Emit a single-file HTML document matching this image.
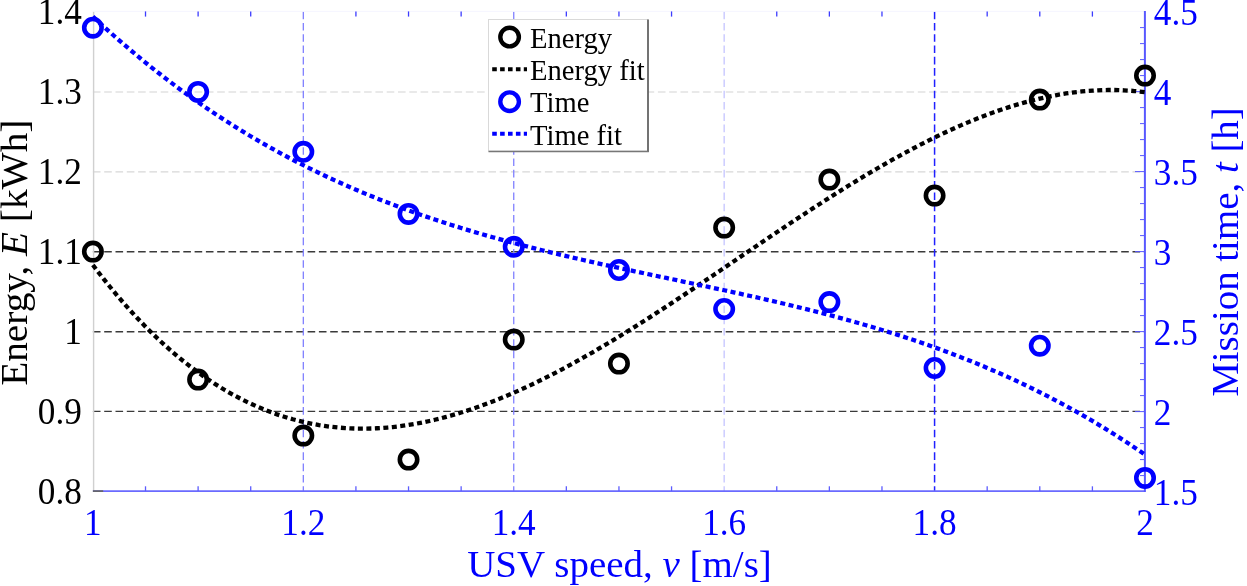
<!DOCTYPE html>
<html><head><meta charset="utf-8"><title>Energy and mission time vs USV speed</title>
<style>html,body{margin:0;padding:0;background:#fff;overflow:hidden}svg text{font-family:"Liberation Serif","Times New Roman",serif}</style></head>
<body>
<svg width="1247" height="586" viewBox="0 0 1247 586" style="display:block">
<rect x="0" y="0" width="1247" height="586" fill="#fff"/>
<line x1="92.9" y1="411.35" x2="1145.0" y2="411.35" stroke="#3a3a3a" stroke-width="1.3" stroke-dasharray="7.6 3.7"/>
<line x1="92.9" y1="331.75" x2="1145.0" y2="331.75" stroke="#3a3a3a" stroke-width="1.3" stroke-dasharray="7.6 3.7"/>
<line x1="92.9" y1="251.75" x2="1145.0" y2="251.75" stroke="#3a3a3a" stroke-width="1.3" stroke-dasharray="7.6 3.7"/>
<line x1="92.9" y1="171.80" x2="1145.0" y2="171.80" stroke="#d8d8d8" stroke-width="1.3" stroke-dasharray="7.6 3.7"/>
<line x1="92.9" y1="92.00" x2="1145.0" y2="92.00" stroke="#e2e2e2" stroke-width="1.3" stroke-dasharray="7.6 3.7"/>
<line x1="303.32" y1="11.6" x2="303.32" y2="491.6" stroke="#8080ff" stroke-width="1.3" stroke-dasharray="7.6 3.7"/>
<line x1="513.74" y1="11.6" x2="513.74" y2="491.6" stroke="#8080ff" stroke-width="1.3" stroke-dasharray="7.6 3.7"/>
<line x1="724.16" y1="11.6" x2="724.16" y2="491.6" stroke="#c4c4ff" stroke-width="1.3" stroke-dasharray="7.6 3.7"/>
<line x1="934.58" y1="11.6" x2="934.58" y2="491.6" stroke="#2020ff" stroke-width="1.5" stroke-dasharray="7.6 3.7"/>
<line x1="93.6" y1="11.4" x2="93.6" y2="491.5" stroke="#d0d0d0" stroke-width="1.4"/>
<line x1="92.9" y1="11.4" x2="1145.0" y2="11.4" stroke="#f5f5ff" stroke-width="1"/>
<line x1="92.9" y1="491.1" x2="1145.0" y2="491.1" stroke="#6a6aff" stroke-width="1.7"/>
<line x1="1144.9" y1="11" x2="1144.9" y2="492" stroke="#5858ff" stroke-width="2"/>
<line x1="92.9" y1="491.1" x2="103.2" y2="491.1" stroke="#666" stroke-width="1.7"/>
<line x1="145.51" y1="11.4" x2="145.51" y2="16.6" stroke="#3c3cff" stroke-width="1.3"/>
<line x1="145.51" y1="491.1" x2="145.51" y2="486.3" stroke="#5c5cff" stroke-width="1.3"/>
<line x1="198.11" y1="11.4" x2="198.11" y2="16.6" stroke="#3c3cff" stroke-width="1.3"/>
<line x1="198.11" y1="491.1" x2="198.11" y2="486.3" stroke="#5c5cff" stroke-width="1.3"/>
<line x1="250.71" y1="11.4" x2="250.71" y2="16.6" stroke="#3c3cff" stroke-width="1.3"/>
<line x1="250.71" y1="491.1" x2="250.71" y2="486.3" stroke="#5c5cff" stroke-width="1.3"/>
<line x1="355.92" y1="11.4" x2="355.92" y2="16.6" stroke="#3c3cff" stroke-width="1.3"/>
<line x1="355.92" y1="491.1" x2="355.92" y2="486.3" stroke="#5c5cff" stroke-width="1.3"/>
<line x1="408.53" y1="11.4" x2="408.53" y2="16.6" stroke="#3c3cff" stroke-width="1.3"/>
<line x1="408.53" y1="491.1" x2="408.53" y2="486.3" stroke="#5c5cff" stroke-width="1.3"/>
<line x1="461.14" y1="11.4" x2="461.14" y2="16.6" stroke="#3c3cff" stroke-width="1.3"/>
<line x1="461.14" y1="491.1" x2="461.14" y2="486.3" stroke="#5c5cff" stroke-width="1.3"/>
<line x1="566.34" y1="11.4" x2="566.34" y2="16.6" stroke="#3c3cff" stroke-width="1.3"/>
<line x1="566.34" y1="491.1" x2="566.34" y2="486.3" stroke="#5c5cff" stroke-width="1.3"/>
<line x1="618.95" y1="11.4" x2="618.95" y2="16.6" stroke="#3c3cff" stroke-width="1.3"/>
<line x1="618.95" y1="491.1" x2="618.95" y2="486.3" stroke="#5c5cff" stroke-width="1.3"/>
<line x1="671.55" y1="11.4" x2="671.55" y2="16.6" stroke="#3c3cff" stroke-width="1.3"/>
<line x1="671.55" y1="491.1" x2="671.55" y2="486.3" stroke="#5c5cff" stroke-width="1.3"/>
<line x1="776.76" y1="11.4" x2="776.76" y2="16.6" stroke="#3c3cff" stroke-width="1.3"/>
<line x1="776.76" y1="491.1" x2="776.76" y2="486.3" stroke="#5c5cff" stroke-width="1.3"/>
<line x1="829.37" y1="11.4" x2="829.37" y2="16.6" stroke="#3c3cff" stroke-width="1.3"/>
<line x1="829.37" y1="491.1" x2="829.37" y2="486.3" stroke="#5c5cff" stroke-width="1.3"/>
<line x1="881.97" y1="11.4" x2="881.97" y2="16.6" stroke="#3c3cff" stroke-width="1.3"/>
<line x1="881.97" y1="491.1" x2="881.97" y2="486.3" stroke="#5c5cff" stroke-width="1.3"/>
<line x1="987.18" y1="11.4" x2="987.18" y2="16.6" stroke="#3c3cff" stroke-width="1.3"/>
<line x1="987.18" y1="491.1" x2="987.18" y2="486.3" stroke="#5c5cff" stroke-width="1.3"/>
<line x1="1039.79" y1="11.4" x2="1039.79" y2="16.6" stroke="#3c3cff" stroke-width="1.3"/>
<line x1="1039.79" y1="491.1" x2="1039.79" y2="486.3" stroke="#5c5cff" stroke-width="1.3"/>
<line x1="1092.40" y1="11.4" x2="1092.40" y2="16.6" stroke="#3c3cff" stroke-width="1.3"/>
<line x1="1092.40" y1="491.1" x2="1092.40" y2="486.3" stroke="#5c5cff" stroke-width="1.3"/>
<line x1="1140.0" y1="475.60" x2="1145.0" y2="475.60" stroke="#5a5aff" stroke-width="1"/>
<line x1="1140.0" y1="459.60" x2="1145.0" y2="459.60" stroke="#5a5aff" stroke-width="1"/>
<line x1="1140.0" y1="443.60" x2="1145.0" y2="443.60" stroke="#5a5aff" stroke-width="1"/>
<line x1="1140.0" y1="427.60" x2="1145.0" y2="427.60" stroke="#5a5aff" stroke-width="1"/>
<line x1="1135.0" y1="411.60" x2="1145.0" y2="411.60" stroke="#5a5aff" stroke-width="1"/>
<line x1="1140.0" y1="395.60" x2="1145.0" y2="395.60" stroke="#5a5aff" stroke-width="1"/>
<line x1="1140.0" y1="379.60" x2="1145.0" y2="379.60" stroke="#5a5aff" stroke-width="1"/>
<line x1="1140.0" y1="363.60" x2="1145.0" y2="363.60" stroke="#5a5aff" stroke-width="1"/>
<line x1="1140.0" y1="347.60" x2="1145.0" y2="347.60" stroke="#5a5aff" stroke-width="1"/>
<line x1="1135.0" y1="331.60" x2="1145.0" y2="331.60" stroke="#5a5aff" stroke-width="1"/>
<line x1="1140.0" y1="315.60" x2="1145.0" y2="315.60" stroke="#5a5aff" stroke-width="1"/>
<line x1="1140.0" y1="299.60" x2="1145.0" y2="299.60" stroke="#5a5aff" stroke-width="1"/>
<line x1="1140.0" y1="283.60" x2="1145.0" y2="283.60" stroke="#5a5aff" stroke-width="1"/>
<line x1="1140.0" y1="267.60" x2="1145.0" y2="267.60" stroke="#5a5aff" stroke-width="1"/>
<line x1="1135.0" y1="251.60" x2="1145.0" y2="251.60" stroke="#5a5aff" stroke-width="1"/>
<line x1="1140.0" y1="235.60" x2="1145.0" y2="235.60" stroke="#5a5aff" stroke-width="1"/>
<line x1="1140.0" y1="219.60" x2="1145.0" y2="219.60" stroke="#5a5aff" stroke-width="1"/>
<line x1="1140.0" y1="203.60" x2="1145.0" y2="203.60" stroke="#5a5aff" stroke-width="1"/>
<line x1="1140.0" y1="187.60" x2="1145.0" y2="187.60" stroke="#5a5aff" stroke-width="1"/>
<line x1="1135.0" y1="171.60" x2="1145.0" y2="171.60" stroke="#5a5aff" stroke-width="1"/>
<line x1="1140.0" y1="155.60" x2="1145.0" y2="155.60" stroke="#5a5aff" stroke-width="1"/>
<line x1="1140.0" y1="139.60" x2="1145.0" y2="139.60" stroke="#5a5aff" stroke-width="1"/>
<line x1="1140.0" y1="123.60" x2="1145.0" y2="123.60" stroke="#5a5aff" stroke-width="1"/>
<line x1="1140.0" y1="107.60" x2="1145.0" y2="107.60" stroke="#5a5aff" stroke-width="1"/>
<line x1="1135.0" y1="91.60" x2="1145.0" y2="91.60" stroke="#5a5aff" stroke-width="1"/>
<line x1="1140.0" y1="75.60" x2="1145.0" y2="75.60" stroke="#5a5aff" stroke-width="1"/>
<line x1="1140.0" y1="59.60" x2="1145.0" y2="59.60" stroke="#5a5aff" stroke-width="1"/>
<line x1="1140.0" y1="43.60" x2="1145.0" y2="43.60" stroke="#5a5aff" stroke-width="1"/>
<line x1="1140.0" y1="27.60" x2="1145.0" y2="27.60" stroke="#5a5aff" stroke-width="1"/>
<path d="M92.90,265.03 L98.16,271.94 L103.42,278.69 L108.68,285.26 L113.94,291.66 L119.20,297.90 L124.46,303.98 L129.72,309.88 L134.98,315.63 L140.24,321.21 L145.51,326.64 L150.77,331.90 L156.03,337.01 L161.29,341.96 L166.55,346.76 L171.81,351.40 L177.07,355.90 L182.33,360.24 L187.59,364.44 L192.85,368.48 L198.11,372.38 L203.37,376.14 L208.63,379.75 L213.89,383.22 L219.15,386.56 L224.41,389.75 L229.67,392.80 L234.93,395.72 L240.19,398.51 L245.45,401.16 L250.71,403.68 L255.98,406.07 L261.24,408.33 L266.50,410.46 L271.76,412.46 L277.02,414.35 L282.28,416.10 L287.54,417.74 L292.80,419.26 L298.06,420.65 L303.32,421.93 L308.58,423.09 L313.84,424.14 L319.10,425.08 L324.36,425.90 L329.62,426.61 L334.88,427.21 L340.14,427.70 L345.40,428.09 L350.66,428.38 L355.92,428.56 L361.19,428.63 L366.45,428.61 L371.71,428.49 L376.97,428.26 L382.23,427.95 L387.49,427.53 L392.75,427.03 L398.01,426.43 L403.27,425.74 L408.53,424.96 L413.79,424.09 L419.05,423.14 L424.31,422.10 L429.57,420.98 L434.83,419.77 L440.09,418.49 L445.35,417.12 L450.61,415.68 L455.87,414.16 L461.14,412.56 L466.40,410.89 L471.66,409.15 L476.92,407.33 L482.18,405.45 L487.44,403.50 L492.70,401.48 L497.96,399.40 L503.22,397.25 L508.48,395.04 L513.74,392.77 L519.00,390.43 L524.26,388.04 L529.52,385.60 L534.78,383.09 L540.04,380.54 L545.30,377.93 L550.56,375.26 L555.82,372.55 L561.08,369.79 L566.34,366.99 L571.61,364.13 L576.87,361.24 L582.13,358.30 L587.39,355.32 L592.65,352.29 L597.91,349.23 L603.17,346.14 L608.43,343.00 L613.69,339.84 L618.95,336.63 L624.21,333.40 L629.47,330.14 L634.73,326.85 L639.99,323.53 L645.25,320.19 L650.51,316.82 L655.77,313.42 L661.03,310.01 L666.29,306.58 L671.55,303.12 L676.82,299.65 L682.08,296.17 L687.34,292.66 L692.60,289.15 L697.86,285.62 L703.12,282.09 L708.38,278.54 L713.64,274.99 L718.90,271.43 L724.16,267.86 L729.42,264.29 L734.68,260.72 L739.94,257.15 L745.20,253.58 L750.46,250.02 L755.72,246.45 L760.98,242.89 L766.24,239.34 L771.50,235.80 L776.76,232.26 L782.03,228.74 L787.29,225.23 L792.55,221.73 L797.81,218.24 L803.07,214.78 L808.33,211.33 L813.59,207.90 L818.85,204.49 L824.11,201.10 L829.37,197.74 L834.63,194.40 L839.89,191.08 L845.15,187.80 L850.41,184.54 L855.67,181.32 L860.93,178.12 L866.19,174.96 L871.45,171.84 L876.71,168.75 L881.97,165.69 L887.24,162.68 L892.50,159.71 L897.76,156.78 L903.02,153.89 L908.28,151.05 L913.54,148.25 L918.80,145.50 L924.06,142.80 L929.32,140.15 L934.58,137.55 L939.84,135.00 L945.10,132.51 L950.36,130.08 L955.62,127.70 L960.88,125.38 L966.14,123.12 L971.40,120.92 L976.66,118.79 L981.92,116.72 L987.18,114.71 L992.45,112.77 L997.71,110.90 L1002.97,109.11 L1008.23,107.38 L1013.49,105.72 L1018.75,104.14 L1024.01,102.64 L1029.27,101.21 L1034.53,99.86 L1039.79,98.59 L1045.05,97.41 L1050.31,96.30 L1055.57,95.28 L1060.83,94.34 L1066.09,93.49 L1071.35,92.73 L1076.61,92.06 L1081.87,91.48 L1087.13,91.00 L1092.40,90.61 L1097.66,90.31 L1102.92,90.11 L1108.18,90.01 L1113.44,90.00 L1118.70,90.10 L1123.96,90.30 L1129.22,90.61 L1134.48,91.02 L1139.74,91.53 L1145.00,92.16" fill="none" stroke="#000" stroke-width="4.3" stroke-dasharray="5.0 3.5"/>
<path d="M92.90,16.55 L98.16,21.46 L103.42,26.29 L108.68,31.06 L113.94,35.75 L119.20,40.39 L124.46,44.95 L129.72,49.45 L134.98,53.88 L140.24,58.25 L145.51,62.56 L150.77,66.80 L156.03,70.98 L161.29,75.10 L166.55,79.16 L171.81,83.16 L177.07,87.09 L182.33,90.97 L187.59,94.79 L192.85,98.55 L198.11,102.25 L203.37,105.90 L208.63,109.49 L213.89,113.02 L219.15,116.50 L224.41,119.92 L229.67,123.29 L234.93,126.61 L240.19,129.88 L245.45,133.09 L250.71,136.25 L255.98,139.36 L261.24,142.42 L266.50,145.43 L271.76,148.40 L277.02,151.31 L282.28,154.18 L287.54,157.00 L292.80,159.78 L298.06,162.51 L303.32,165.19 L308.58,167.83 L313.84,170.43 L319.10,172.98 L324.36,175.49 L329.62,177.96 L334.88,180.39 L340.14,182.78 L345.40,185.12 L350.66,187.43 L355.92,189.70 L361.19,191.93 L366.45,194.13 L371.71,196.29 L376.97,198.41 L382.23,200.50 L387.49,202.55 L392.75,204.56 L398.01,206.55 L403.27,208.50 L408.53,210.42 L413.79,212.30 L419.05,214.16 L424.31,215.98 L429.57,217.78 L434.83,219.55 L440.09,221.28 L445.35,222.99 L450.61,224.68 L455.87,226.33 L461.14,227.96 L466.40,229.57 L471.66,231.15 L476.92,232.70 L482.18,234.24 L487.44,235.75 L492.70,237.23 L497.96,238.70 L503.22,240.14 L508.48,241.57 L513.74,242.97 L519.00,244.36 L524.26,245.73 L529.52,247.07 L534.78,248.41 L540.04,249.72 L545.30,251.02 L550.56,252.31 L555.82,253.58 L561.08,254.83 L566.34,256.07 L571.61,257.30 L576.87,258.52 L582.13,259.73 L587.39,260.92 L592.65,262.11 L597.91,263.28 L603.17,264.45 L608.43,265.61 L613.69,266.76 L618.95,267.90 L624.21,269.04 L629.47,270.17 L634.73,271.29 L639.99,272.41 L645.25,273.53 L650.51,274.65 L655.77,275.76 L661.03,276.87 L666.29,277.97 L671.55,279.08 L676.82,280.19 L682.08,281.29 L687.34,282.40 L692.60,283.51 L697.86,284.62 L703.12,285.74 L708.38,286.86 L713.64,287.98 L718.90,289.11 L724.16,290.24 L729.42,291.38 L734.68,292.53 L739.94,293.69 L745.20,294.85 L750.46,296.02 L755.72,297.20 L760.98,298.39 L766.24,299.59 L771.50,300.80 L776.76,302.02 L782.03,303.26 L787.29,304.51 L792.55,305.77 L797.81,307.05 L803.07,308.34 L808.33,309.65 L813.59,310.97 L818.85,312.31 L824.11,313.67 L829.37,315.05 L834.63,316.44 L839.89,317.86 L845.15,319.29 L850.41,320.75 L855.67,322.23 L860.93,323.72 L866.19,325.24 L871.45,326.79 L876.71,328.36 L881.97,329.95 L887.24,331.57 L892.50,333.21 L897.76,334.88 L903.02,336.58 L908.28,338.30 L913.54,340.05 L918.80,341.83 L924.06,343.64 L929.32,345.48 L934.58,347.36 L939.84,349.26 L945.10,351.19 L950.36,353.16 L955.62,355.16 L960.88,357.20 L966.14,359.27 L971.40,361.37 L976.66,363.51 L981.92,365.69 L987.18,367.90 L992.45,370.15 L997.71,372.44 L1002.97,374.77 L1008.23,377.14 L1013.49,379.55 L1018.75,381.99 L1024.01,384.48 L1029.27,387.02 L1034.53,389.59 L1039.79,392.21 L1045.05,394.87 L1050.31,397.58 L1055.57,400.33 L1060.83,403.13 L1066.09,405.98 L1071.35,408.87 L1076.61,411.81 L1081.87,414.80 L1087.13,417.83 L1092.40,420.92 L1097.66,424.06 L1102.92,427.24 L1108.18,430.48 L1113.44,433.78 L1118.70,437.12 L1123.96,440.52 L1129.22,443.97 L1134.48,447.48 L1139.74,451.04 L1145.00,454.66" fill="none" stroke="#0000ff" stroke-width="4.3" stroke-dasharray="5.0 3.5"/>
<circle cx="92.90" cy="251.60" r="8.7" fill="none" stroke="#000" stroke-width="4.6"/>
<circle cx="198.11" cy="379.60" r="8.7" fill="none" stroke="#000" stroke-width="4.6"/>
<circle cx="303.32" cy="435.60" r="8.7" fill="none" stroke="#000" stroke-width="4.6"/>
<circle cx="408.53" cy="459.60" r="8.7" fill="none" stroke="#000" stroke-width="4.6"/>
<circle cx="513.74" cy="339.60" r="8.7" fill="none" stroke="#000" stroke-width="4.6"/>
<circle cx="618.95" cy="363.60" r="8.7" fill="none" stroke="#000" stroke-width="4.6"/>
<circle cx="724.16" cy="227.60" r="8.7" fill="none" stroke="#000" stroke-width="4.6"/>
<circle cx="829.37" cy="179.60" r="8.7" fill="none" stroke="#000" stroke-width="4.6"/>
<circle cx="934.58" cy="195.60" r="8.7" fill="none" stroke="#000" stroke-width="4.6"/>
<circle cx="1039.79" cy="99.60" r="8.7" fill="none" stroke="#000" stroke-width="4.6"/>
<circle cx="1145.00" cy="75.60" r="8.7" fill="none" stroke="#000" stroke-width="4.6"/>
<circle cx="92.90" cy="27.70" r="8.7" fill="none" stroke="#0000ff" stroke-width="4.6"/>
<circle cx="198.11" cy="91.90" r="8.7" fill="none" stroke="#0000ff" stroke-width="4.6"/>
<circle cx="303.32" cy="151.80" r="8.7" fill="none" stroke="#0000ff" stroke-width="4.6"/>
<circle cx="408.53" cy="213.90" r="8.7" fill="none" stroke="#0000ff" stroke-width="4.6"/>
<circle cx="513.74" cy="246.80" r="8.7" fill="none" stroke="#0000ff" stroke-width="4.6"/>
<circle cx="618.95" cy="270.00" r="8.7" fill="none" stroke="#0000ff" stroke-width="4.6"/>
<circle cx="724.16" cy="309.00" r="8.7" fill="none" stroke="#0000ff" stroke-width="4.6"/>
<circle cx="829.37" cy="302.10" r="8.7" fill="none" stroke="#0000ff" stroke-width="4.6"/>
<circle cx="934.58" cy="368.00" r="8.7" fill="none" stroke="#0000ff" stroke-width="4.6"/>
<circle cx="1039.79" cy="345.70" r="8.7" fill="none" stroke="#0000ff" stroke-width="4.6"/>
<circle cx="1145.00" cy="477.90" r="8.7" fill="none" stroke="#0000ff" stroke-width="4.6"/>
<rect x="488.5" y="19.5" width="159.5" height="131.5" fill="#fff" stroke="#d9d9d9" stroke-width="1"/>
<line x1="648" y1="19.5" x2="648" y2="152" stroke="#555" stroke-width="1.6"/>
<line x1="488.5" y1="151.5" x2="648.8" y2="151.5" stroke="#777" stroke-width="1.4"/>
<circle cx="509.6" cy="37.1" r="9.3" fill="none" stroke="#000" stroke-width="4.4"/>
<text x="530" y="47.8" font-size="28.6" fill="#000">Energy</text>
<line x1="492.2" y1="69.3" x2="527" y2="69.3" stroke="#000" stroke-width="4.1" stroke-dasharray="4.6 3.3"/>
<text x="530" y="80.0" font-size="28.6" fill="#000">Energy fit</text>
<circle cx="509.6" cy="101.7" r="9.3" fill="none" stroke="#0000ff" stroke-width="4.4"/>
<text x="530" y="112.4" font-size="28.6" fill="#000">Time</text>
<line x1="492.2" y1="133.8" x2="527" y2="133.8" stroke="#0000ff" stroke-width="4.1" stroke-dasharray="4.6 3.3"/>
<text x="530" y="144.5" font-size="28.6" fill="#000">Time fit</text>
<text transform="translate(81.8,503.9) scale(0.92,1)" font-size="38.3" text-anchor="end" fill="#000">0.8</text>
<text transform="translate(81.8,423.9) scale(0.92,1)" font-size="38.3" text-anchor="end" fill="#000">0.9</text>
<text transform="translate(81.8,343.9) scale(0.92,1)" font-size="38.3" text-anchor="end" fill="#000">1</text>
<text transform="translate(81.8,263.9) scale(0.92,1)" font-size="38.3" text-anchor="end" fill="#000">1.1</text>
<text transform="translate(81.8,183.9) scale(0.92,1)" font-size="38.3" text-anchor="end" fill="#000">1.2</text>
<text transform="translate(81.8,103.9) scale(0.92,1)" font-size="38.3" text-anchor="end" fill="#000">1.3</text>
<text transform="translate(81.8,23.9) scale(0.92,1)" font-size="38.3" text-anchor="end" fill="#000">1.4</text>
<text transform="translate(1153.8,504.5) scale(0.92,1)" font-size="38.3" text-anchor="start" fill="#0000ff">1.5</text>
<text transform="translate(1153.8,424.5) scale(0.92,1)" font-size="38.3" text-anchor="start" fill="#0000ff">2</text>
<text transform="translate(1153.8,344.5) scale(0.92,1)" font-size="38.3" text-anchor="start" fill="#0000ff">2.5</text>
<text transform="translate(1153.8,264.5) scale(0.92,1)" font-size="38.3" text-anchor="start" fill="#0000ff">3</text>
<text transform="translate(1153.8,184.5) scale(0.92,1)" font-size="38.3" text-anchor="start" fill="#0000ff">3.5</text>
<text transform="translate(1153.8,104.5) scale(0.92,1)" font-size="38.3" text-anchor="start" fill="#0000ff">4</text>
<text transform="translate(1153.8,24.5) scale(0.92,1)" font-size="38.3" text-anchor="start" fill="#0000ff">4.5</text>
<text transform="translate(92.9,535) scale(0.92,1)" font-size="38.3" text-anchor="middle" fill="#0000ff">1</text>
<text transform="translate(303.3,535) scale(0.92,1)" font-size="38.3" text-anchor="middle" fill="#0000ff">1.2</text>
<text transform="translate(513.7,535) scale(0.92,1)" font-size="38.3" text-anchor="middle" fill="#0000ff">1.4</text>
<text transform="translate(724.2,535) scale(0.92,1)" font-size="38.3" text-anchor="middle" fill="#0000ff">1.6</text>
<text transform="translate(934.6,535) scale(0.92,1)" font-size="38.3" text-anchor="middle" fill="#0000ff">1.8</text>
<text transform="translate(1145.0,535) scale(0.92,1)" font-size="38.3" text-anchor="middle" fill="#0000ff">2</text>
<text transform="translate(619.5,577.2) scale(1,0.97)" font-size="39" text-anchor="middle" fill="#0000ff">USV speed, <tspan font-style="italic">v</tspan> [m/s]</text>
<text transform="translate(27.3,252.7) rotate(-90) scale(1,0.97)" font-size="39.3" text-anchor="middle" fill="#000">Energy, <tspan font-style="italic">E</tspan> [kWh]</text>
<text transform="translate(1238.2,252) rotate(-90) scale(1,0.97)" font-size="38.9" text-anchor="middle" fill="#0000ff">Mission time, <tspan font-style="italic">t</tspan> [h]</text>
</svg>
</body></html>
